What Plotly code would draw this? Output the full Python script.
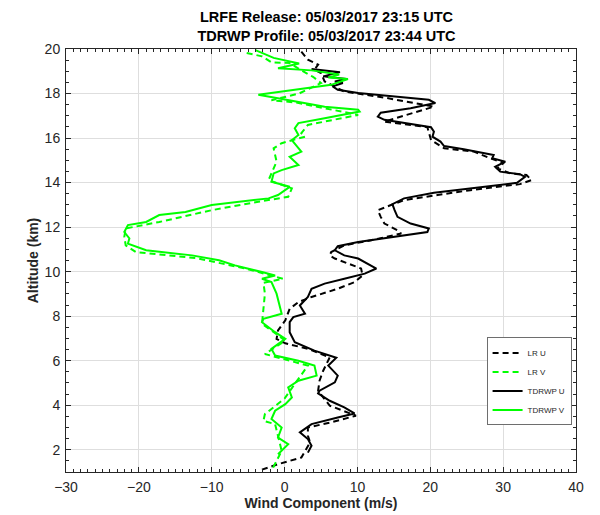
import plotly.graph_objects as go

# ---- data ----
lr_u_x = [2.3, 3.2, 4.6, 4.1, 5.0, 5.5, 8.2, 14.0, 20.5, 16.9, 13.7, 19.6, 20.1, 21.9, 26.0, 28.2, 30.1, 29.2,
          31.0, 33.2, 33.9, 32.3, 25.5, 21.0, 16.4, 14.6, 12.8, 13.2, 13.7, 15.5, 16.0, 11.9, 8.2, 6.4, 6.2, 6.9,
          10.5, 10.7, 9.6, 7.3, 3.7, 1.9, 0.7, 0.1, -0.9, -1.1, 0.1, 3.2, 6.2, 5.3, 4.8, 4.6, 6.2, 9.8, 6.4, 3.2,
          3.2, 3.5, 2.3, -0.9, -3.6]
lr_u_alt = [19.88, 19.52, 19.3, 19.07, 18.92, 18.54, 18.09, 17.8, 17.41, 17.04, 16.74, 16.49, 15.91, 15.54, 15.39,
            15.09, 14.89, 14.64, 14.41, 14.34, 14.11, 13.93, 13.66, 13.44, 13.21, 12.99, 12.76, 12.46, 12.16, 11.86,
            11.71, 11.41, 11.18, 10.88, 10.73, 10.59, 10.14, 9.83, 9.53, 9.23, 8.86, 8.63, 8.33, 7.81, 7.36, 6.98,
            6.78, 6.53, 6.15, 5.55, 5.10, 4.65, 3.98, 3.53, 3.23, 3.0, 2.63, 2.33, 1.65, 1.35, 1.05]

lr_v_x = [-5.2, -3.1, -1.8, 0.7, 2.0, 3.9, 5.0, 2.0, -1.8, 1.5, 10.1, 3.2, 2.3, 2.8, -0.4, -1.5, -1.1, -2.2, 1.0,
          0.5, -3.6, -10.0, -17.2, -21.8, -22.0, -21.8, -20.4, -12.0, -5.4, -0.2, -2.9, -2.7, -3.1, 0.1, -2.7,
          3.2, 1.5, 0.0, -2.7, -2.9, -1.3, -0.4, -1.8]
lr_v_alt = [19.82, 19.67, 19.4, 19.37, 19.1, 18.75, 18.47, 18.0, 17.7, 17.6, 17.04, 16.59, 16.22, 16.06, 15.77,
            15.54, 14.94, 14.11, 13.74, 13.36, 13.14, 12.76, 12.23, 11.94, 11.56, 11.18, 10.88, 10.6, 10.14, 9.68,
            9.5, 9.01, 7.66, 6.9, 6.3, 5.78, 5.0, 4.3, 3.6, 3.3, 3.15, 1.95, 1.05]

td_u_x = [3.7, 7.6, 5.3, 8.5, 6.9, 8.0, 6.6, 7.3, 10.1, 15.5, 19.8, 20.7, 17.3, 13.2, 12.8, 13.7, 16.9, 20.1, 20.5,
          20.3, 21.4, 21.9, 24.6, 27.3, 28.7, 28.5, 30.3, 28.9, 29.6, 32.3, 33.0, 31.9, 25.5, 20.5, 16.4, 14.8,
          15.1, 15.5, 17.3, 19.8, 19.6, 14.6, 10.1, 7.3, 6.9, 8.2, 10.1, 12.6, 11.0, 8.2, 5.5, 3.7, 3.2, 2.1, 2.8,
          1.2, 0.7, 0.7, 1.4, 4.1, 7.1, 6.0, 7.3, 6.9, 4.8, 4.6, 6.2, 8.2, 9.6, 7.3, 3.7, 2.1, 3.2, 3.7, 3.2]
td_u_alt = [19.1, 18.96, 18.77, 18.65, 18.54, 18.47, 18.32, 18.17, 18.02, 17.84, 17.72, 17.57, 17.34, 17.14, 16.96,
            16.82, 16.67, 16.49, 16.29, 16.06, 15.84, 15.64, 15.5, 15.32, 15.24, 15.09, 14.94, 14.71, 14.49, 14.38,
            14.26, 13.99, 13.74, 13.54, 13.29, 13.03, 12.76, 12.46, 12.16, 11.94, 11.78, 11.56, 11.33, 11.14, 10.96,
            10.73, 10.59, 10.14, 9.91, 9.68, 9.46, 9.23, 8.86, 8.48, 8.11, 7.96, 7.73, 7.28, 6.83, 6.45, 6.13, 5.78,
            5.33, 5.03, 4.65, 4.53, 4.2, 3.9, 3.63, 3.45, 3.15, 2.78, 2.48, 2.18, 1.87]

td_v_x = [-4.0, -1.5, 2.0, -0.9, 3.7, 7.5, 6.0, 8.7, 6.4, -3.6, 1.0, 5.5, 10.1, 10.3, 5.5, 1.9, 1.4, 1.9, 1.0,
          2.3, 0.7, 1.9, -0.4, -1.5, -1.8, 0.7, -0.9, -2.2, -10.0, -13.6, -17.2, -19.0, -21.5, -22.0, -21.3,
          -21.5, -19.0, -12.7, -9.0, -6.8, -3.1, -1.3, -3.1, -1.8, -1.1, -0.9, -0.4, -2.9, -3.1, -1.3, 0.1, -1.8,
          -1.3, 1.9, 4.1, 4.4, 1.9, 0.5, 1.0, 0.1, -1.3, -1.8, -0.4, -0.9, 0.5, -0.9]
td_v_alt = [19.95, 19.6, 19.35, 19.14, 19.04, 18.85, 18.72, 18.65, 18.39, 17.94, 17.68, 17.41, 17.27, 17.19, 16.89,
            16.67, 16.44, 16.14, 15.91, 15.39, 15.16, 14.79, 14.56, 14.41, 14.04, 13.81, 13.44, 13.29, 12.99, 12.68,
            12.54, 12.23, 12.09, 11.78, 11.49, 11.26, 10.96, 10.73, 10.51, 10.28, 9.98, 9.83, 9.68, 9.53, 9.01,
            8.78, 8.11, 7.88, 7.73, 7.28, 6.98, 6.53, 6.23, 6.0, 5.78, 5.33, 5.1, 4.8, 4.35, 4.05, 3.75, 3.38, 3.0,
            2.55, 2.25, 1.8]

x_ticks = [-30, -20, -10, 0, 10, 20, 30, 40]
y_ticks = [2, 4, 6, 8, 10, 12, 14, 16, 18, 20]

GREEN = "#00ff00"
fig = go.Figure()
fig.add_trace(go.Scatter(x=lr_u_x, y=lr_u_alt, mode="lines", name="LR U",
                         line=dict(color="black", width=2, dash="6px,4px")))
fig.add_trace(go.Scatter(x=lr_v_x, y=lr_v_alt, mode="lines", name="LR V",
                         line=dict(color=GREEN, width=2, dash="6px,4px")))
fig.add_trace(go.Scatter(x=td_u_x, y=td_u_alt, mode="lines", name="TDRWP U",
                         line=dict(color="black", width=2)))
fig.add_trace(go.Scatter(x=td_v_x, y=td_v_alt, mode="lines", name="TDRWP V",
                         line=dict(color=GREEN, width=2)))

axis_common = dict(
    showline=True, linecolor="#262626", linewidth=1, mirror="ticks",
    ticks="inside", ticklen=5, tickcolor="#262626",
    showgrid=True, gridcolor="#dedede", gridwidth=1, zeroline=False,
    tickfont=dict(family="Liberation Sans, Arial", size=14, color="#262626"),
)
fig.update_xaxes(range=[-30, 40], tickvals=x_ticks, ticklabelstandoff=2,
                 minor=dict(dtick=1, ticks="inside", ticklen=3, tickcolor="#262626", showgrid=False),
                 title=dict(text="<b>Wind Component (m/s)</b>", font=dict(size=14, color="#262626"), standoff=2),
                 **axis_common)
fig.update_yaxes(range=[1, 20], tickvals=y_ticks, ticklabelstandoff=2,
                 minor=dict(dtick=0.5, ticks="inside", ticklen=3, tickcolor="#262626", showgrid=False),
                 title=dict(text="<b>Altitude (km)</b>", font=dict(size=14, color="#262626"), standoff=2),
                 **axis_common)

fig.update_layout(
    width=592, height=507,
    margin=dict(l=58, r=24, t=41, b=43, autoexpand=False),
    paper_bgcolor="white", plot_bgcolor="white",
    font=dict(family="Liberation Sans, Arial", color="#262626"),
    title=dict(text="<b>LRFE Release: 05/03/2017 23:15 UTC<br>TDRWP Profile: 05/03/2017 23:44 UTC</b>",
               x=0.538, xanchor="center", y=0.972, yanchor="top",
               font=dict(size=14.5, color="black")),
    legend=dict(x=0.908, y=0.214, xanchor="center", yanchor="middle",
                bgcolor="white", bordercolor="#6e6e6e", borderwidth=1, itemwidth=30,
                font=dict(size=8, color="#262626"), tracegroupgap=0),
)

fig.write_html("out.html")
